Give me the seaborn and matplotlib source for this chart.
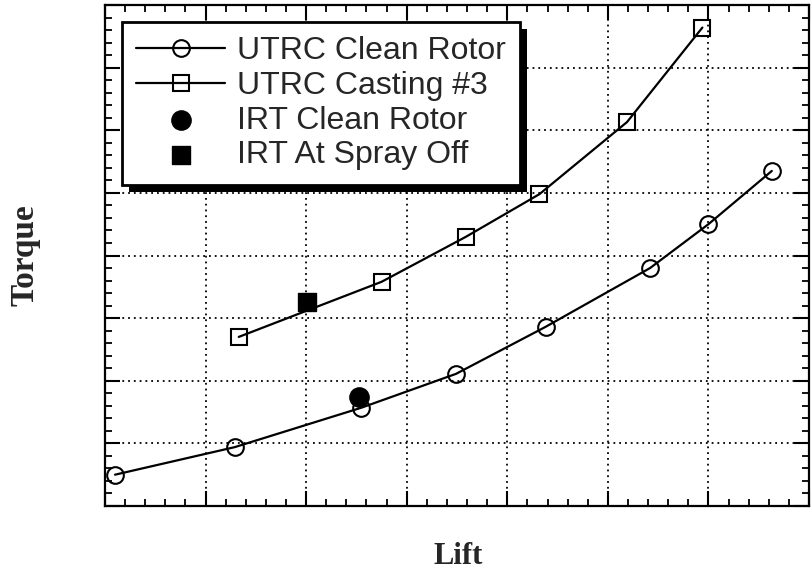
import numpy as np
import pandas as pd
import matplotlib.pyplot as plt
import matplotlib.patheffects as pe
from matplotlib.ticker import MultipleLocator, NullFormatter
import seaborn as sns

# Data (arbitrary units, no tick labels shown)
clean_lift = [0.10, 1.29, 2.55, 3.49, 4.38, 5.42, 6.00, 6.63]
clean_torque = [0.50, 0.94, 1.57, 2.11, 2.86, 3.80, 4.50, 5.35]

cast_lift = [1.33, 2.75, 3.59, 4.32, 5.19, 5.94]
cast_torque = [2.70, 3.58, 4.30, 4.98, 6.13, 7.64]

irt_clean_lift = [2.53]
irt_clean_torque = [1.74]

irt_spray_lift = [2.01]
irt_spray_torque = [3.26]

labels = ['UTRC Clean Rotor', 'UTRC Casting #3', 'IRT Clean Rotor', 'IRT At Spray Off']

clean = pd.DataFrame({'lift': clean_lift, 'torque': clean_torque})
cast = pd.DataFrame({'lift': cast_lift, 'torque': cast_torque})
irt_clean = pd.DataFrame({'lift': irt_clean_lift, 'torque': irt_clean_torque})
irt_spray = pd.DataFrame({'lift': irt_spray_lift, 'torque': irt_spray_torque})

sns.set_style('white')
plt.rcParams['font.family'] = ['Liberation Sans', 'DejaVu Sans']

fig = plt.figure(figsize=(8.12, 5.76), dpi=100)
ax = fig.add_axes([105 / 812, 70 / 576, 704 / 812, 501 / 576])

line_kw = dict(color='black', linewidth=1.6, markersize=12,
               markerfacecolor='none', markeredgecolor='black', markeredgewidth=1.5)
sns.lineplot(data=clean, x='lift', y='torque', marker='o', sort=False,
             label=labels[0], ax=ax, **line_kw)
sns.lineplot(data=cast, x='lift', y='torque', marker='s', sort=False,
             label=labels[1], ax=ax, **line_kw)
sns.scatterplot(data=irt_clean, x='lift', y='torque', marker='o', s=190,
                color='black', edgecolor='black', label=labels[2], ax=ax, zorder=5)
sns.scatterplot(data=irt_spray, x='lift', y='torque', marker='s', s=150,
                color='black', edgecolor='black', label=labels[3], ax=ax, zorder=5)

ax.set_xlim(0, 7)
ax.set_ylim(0, 8)
ax.xaxis.set_major_locator(MultipleLocator(1))
ax.xaxis.set_minor_locator(MultipleLocator(0.2))
ax.yaxis.set_major_locator(MultipleLocator(1))
ax.yaxis.set_minor_locator(MultipleLocator(0.2))
ax.xaxis.set_major_formatter(NullFormatter())
ax.yaxis.set_major_formatter(NullFormatter())
ax.tick_params(which='both', direction='in', top=True, right=True,
               bottom=True, left=True, color='black')
ax.tick_params(which='major', length=11, width=1.5)
ax.tick_params(which='minor', length=5, width=1.3)
ax.grid(True, which='major', color='black', linestyle=(0, (1, 2.2)), linewidth=1.3)
for s in ax.spines.values():
    s.set_color('black')
    s.set_linewidth(1.6)

ax.set_xlabel('Lift', family='Liberation Serif', fontweight='bold', fontsize=22)
ax.set_ylabel('Torque', family='Liberation Serif', fontweight='bold', fontsize=24)
ax.xaxis.set_label_coords(0.502, -0.10)
ax.xaxis.label.set_va('center')
ax.yaxis.set_label_coords(-0.113, 0.5)
ax.yaxis.label.set_va('center')

handles, labs = ax.get_legend_handles_labels()
leg = ax.legend(handles, labs, loc='upper left', fontsize=23, frameon=True,
                fancybox=False, handlelength=2.8, handletextpad=0.37,
                labelspacing=0.15, borderpad=0.45, borderaxespad=0.52,
                numpoints=1, scatterpoints=1)
frame = leg.get_frame()
frame.set_edgecolor('black')
frame.set_linewidth(2)
frame.set_facecolor('white')
frame.set_alpha(1)
frame.set_path_effects([pe.SimplePatchShadow(offset=(5, -5), shadow_rgbFace='black', alpha=1),
                        pe.Normal()])

plt.savefig('out.png', dpi=100)
